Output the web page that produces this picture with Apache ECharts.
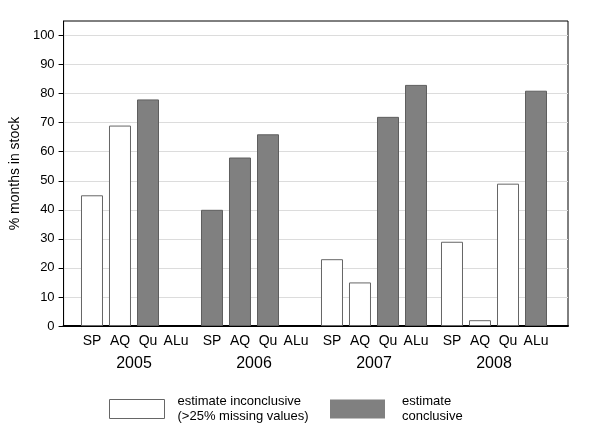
<!DOCTYPE html>
<html>
<head>
<meta charset="utf-8">
<script src="https://cdn.jsdelivr.net/npm/echarts@6/dist/echarts.min.js"></script>
<style>
    html, body { margin: 0; padding: 0; background: #fff; }
    #chart { width: 594px; height: 432px; }
</style>
</head>
<body>
<div id="chart"></div>
<script>
    // data
    var years = ['2005', '2006', '2007', '2008'];
    var sites = ['SP', 'AQ', 'Qu', 'ALu'];
    // % months in stock, per site, per year (null = no bar)
    var valSP = [45, 40, 23, 29];
    var valAQ = [69, 58, 15, 2];
    var valQu = [78, 66, 72, 49];
    var valALu = [null, null, 83, 81];
    // 1 = estimate conclusive, 0 = inconclusive
    var conSP = [0, 1, 0, 0];
    var conAQ = [0, 1, 0, 0];
    var conQu = [1, 1, 1, 0];
    var conALu = [0, 0, 1, 1];
    var yTicks = [0, 10, 20, 30, 40, 50, 60, 70, 80, 90, 100];
    var nameIncon = 'estimate inconclusive\n(>25% missing values)';
    var nameCon = 'estimate\nconclusive';

    var values = [valSP, valAQ, valQu, valALu];
    var flags = [conSP, conAQ, conQu, conALu];

    var styleIncon = { color: '#ffffff', borderColor: '#666666', borderWidth: 1, opacity: 1 };
    var styleCon = { color: '#808080', borderColor: '#5e5e5e', borderWidth: 1, opacity: 1 };
    var styleNone = { color: 'rgba(0,0,0,0)', borderWidth: 0 };

    var series = [];
    for (var s = 0; s < sites.length; s++) {
        var dat = [];
        for (var i = 0; i < years.length; i++) {
            var v = values[s][i];
            if (v === null) {
                dat.push({ value: 0, itemStyle: styleNone });
            } else {
                dat.push({ value: v, itemStyle: flags[s][i] ? styleCon : styleIncon });
            }
        }
        series.push({
            name: sites[s],
            type: 'bar',
            xAxisIndex: 1,
            yAxisIndex: 1,
            barWidth: 22,
            barGap: '27.3%',
            data: dat,
            label: {
                show: true,
                position: 'bottom',
                distance: 8,
                formatter: '{a}',
                fontSize: 14,
                color: '#000'
            },
            emphasis: { disabled: true },
            silent: true
        });
    }

    // legend only series
    series.push({ name: nameIncon, type: 'scatter', xAxisIndex: 0, yAxisIndex: 0, data: [], itemStyle: styleIncon });
    series.push({ name: nameCon, type: 'scatter', xAxisIndex: 0, yAxisIndex: 0, data: [], itemStyle: styleCon });

    var myChart = echarts.init(document.getElementById('chart'));
    var option = {
        backgroundColor: '#fff',
        animation: false,
        textStyle: { fontFamily: "'Liberation Sans', Arial, sans-serif" },
        grid: [
            { left: 61, right: 26, top: 21, bottom: 106, show: true, borderColor: '#000', borderWidth: 1, backgroundColor: 'rgba(0,0,0,0)' },
            { left: 74, right: 40, top: 21, bottom: 106 }
        ],
        legend: [
            {
                left: 109, top: 394, padding: 0, selectedMode: false,
                itemWidth: 55, itemHeight: 19,
                data: [{ name: nameIncon, icon: 'rect', itemStyle: styleIncon }],
                textStyle: { fontSize: 13, lineHeight: 15, color: '#000', padding: [0, 0, 0, 8] }
            },
            {
                left: 330, top: 394, padding: 0, selectedMode: false,
                itemWidth: 55, itemHeight: 19,
                data: [{ name: nameCon, icon: 'rect', itemStyle: { color: '#808080', borderWidth: 0, opacity: 1 } }],
                textStyle: { fontSize: 13, lineHeight: 15, color: '#000', padding: [0, 0, 0, 12] }
            }
        ],
        xAxis: [
            {
                gridIndex: 0, type: 'value', min: 0, max: 1,
                axisLine: { show: true, lineStyle: { color: '#000', width: 2 } },
                axisTick: { show: false }, axisLabel: { show: false }, splitLine: { show: false }
            },
            {
                gridIndex: 1, type: 'category', data: years,
                axisLine: { show: false }, axisTick: { show: false },
                axisLabel: { fontSize: 16, color: '#000', margin: 30 }
            }
        ],
        yAxis: [
            {
                gridIndex: 0, type: 'value', min: 0, max: 105, interval: 10,
                name: '% months in stock', nameLocation: 'middle', nameGap: 37,
                nameTextStyle: { fontSize: 14, color: '#000' },
                axisLine: { show: true, lineStyle: { color: '#000' } },
                axisTick: { show: true, length: 5, customValues: yTicks, lineStyle: { color: '#000' } },
                axisLabel: { fontSize: 13, color: '#000', margin: 9, customValues: yTicks },
                splitLine: { show: true, lineStyle: { color: '#dcdcdc' } }
            },
            { gridIndex: 1, type: 'value', min: 0, max: 105, show: false }
        ],
        series: series
    };
    myChart.setOption(option);
</script>
</body>
</html>
